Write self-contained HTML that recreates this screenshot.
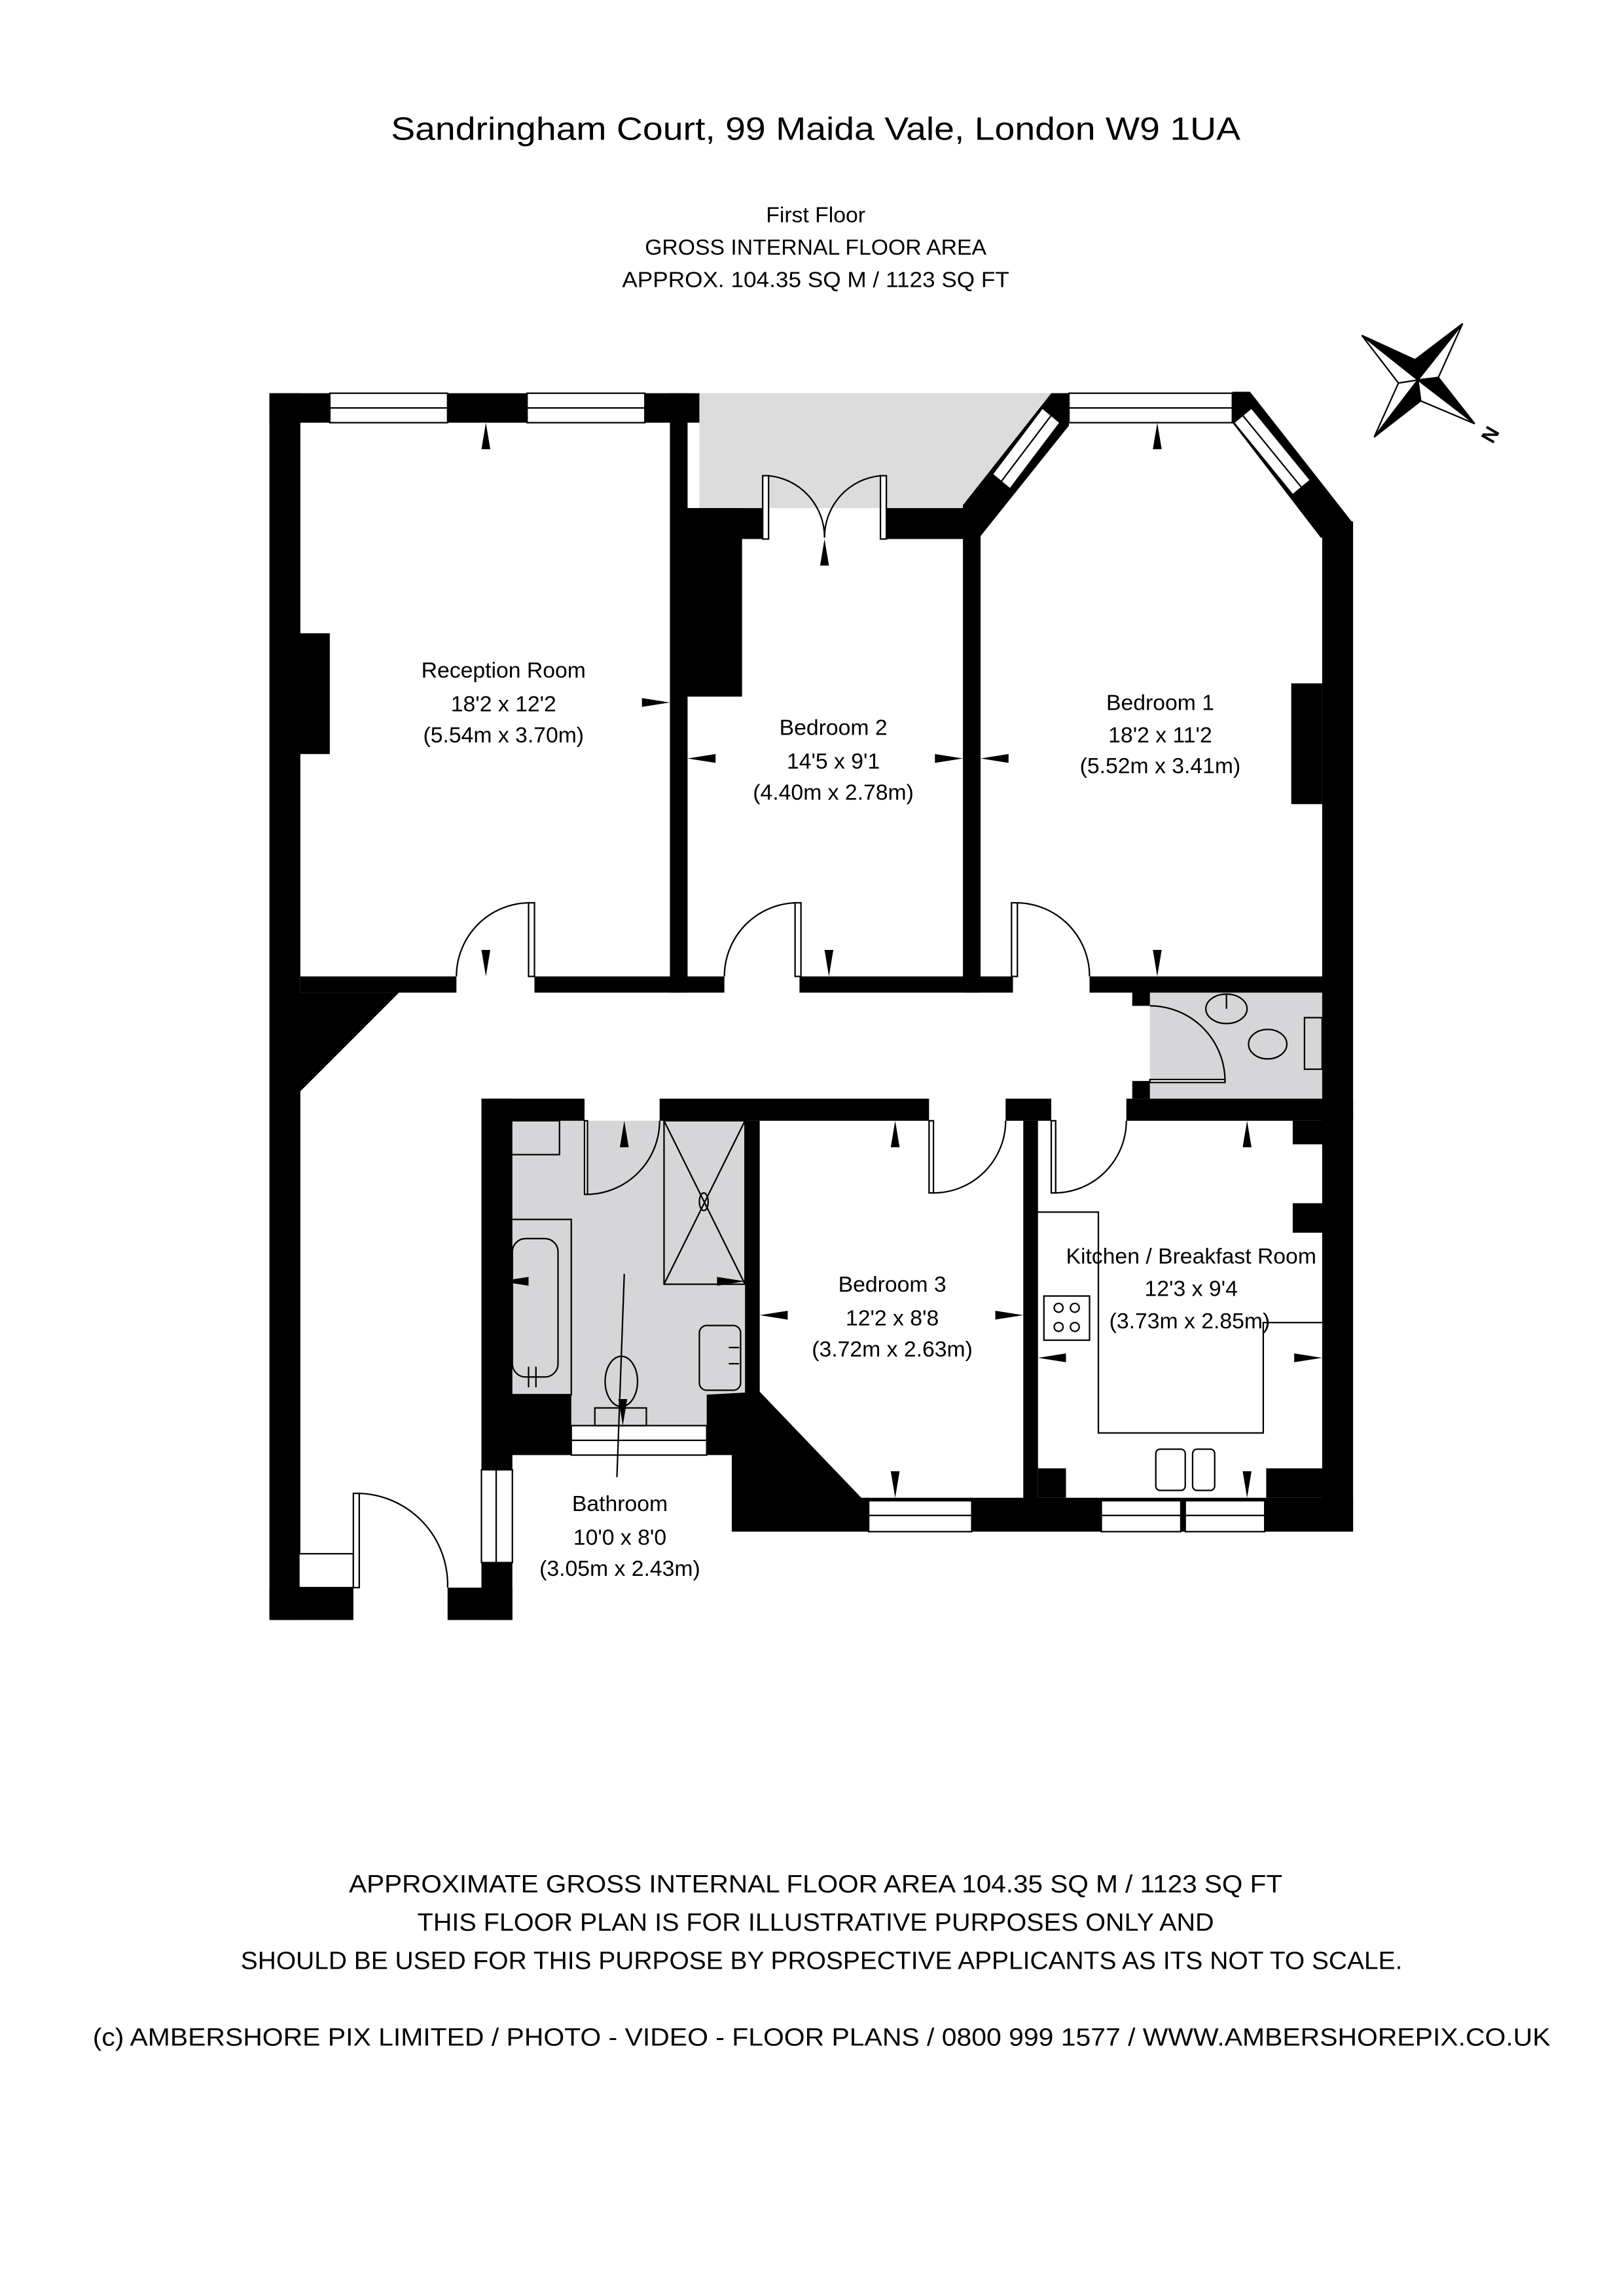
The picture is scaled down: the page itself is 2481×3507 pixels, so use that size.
<!DOCTYPE html>
<html><head><meta charset="utf-8"><style>
html,body{margin:0;padding:0;background:#fff;}
svg{display:block;}
text{font-family:"Liberation Sans",sans-serif;fill:#000;}
</style></head><body>
<svg width="2481" height="3507" viewBox="0 0 1103 1559" preserveAspectRatio="none" xmlns="http://www.w3.org/2000/svg">
<rect width="1103" height="1559" fill="#fff"/>
<text x="554" y="95" font-size="22" text-anchor="middle" textLength="577" lengthAdjust="spacingAndGlyphs">Sandringham Court, 99 Maida Vale, London W9 1UA</text>
<text x="554" y="151" font-size="15" text-anchor="middle">First Floor</text>
<text x="554" y="173" font-size="15" text-anchor="middle" textLength="232" lengthAdjust="spacingAndGlyphs">GROSS INTERNAL FLOOR AREA</text>
<text x="554" y="195" font-size="15" text-anchor="middle" textLength="263" lengthAdjust="spacingAndGlyphs">APPROX. 104.35 SQ M / 1123 SQ FT</text>

<polygon points="475,267 715,267 654,345 475,345" fill="#dcdcdc"/>
<rect x="340" y="761" width="166" height="207" fill="#d6d6d8"/>
<rect x="781" y="673" width="117" height="73" fill="#d6d6d8"/>

<g fill="#000">
<rect x="183" y="267" width="21" height="833"/>
<rect x="183" y="1078" width="57" height="22"/>
<rect x="304" y="1078" width="44" height="22"/>
<rect x="327" y="746" width="21" height="354"/>
<rect x="183" y="267" width="292" height="20"/>
<rect x="203" y="430" width="21" height="82"/>
<rect x="455" y="267" width="12" height="407"/>
<rect x="465" y="345" width="39" height="128"/>
<rect x="465" y="345" width="53" height="21"/>
<rect x="598" y="345" width="60" height="21"/>
<rect x="654" y="345" width="12" height="329"/>
<polygon points="654,343 714,267 726,267 726,289 666,364 654,364"/>
<rect x="714" y="267" width="135" height="20"/>
<polygon points="849,266 918,354 918,365 897,365 837,287 837,266"/>
<rect x="898" y="354" width="21" height="686"/>
<rect x="877" y="464" width="21" height="82"/>
<rect x="204" y="663" width="106" height="11"/>
<rect x="363" y="663" width="129" height="11"/>
<rect x="543" y="663" width="145" height="11"/>
<rect x="740" y="663" width="178" height="11"/>
<polygon points="203,674 271,674 203,742"/>
<rect x="769" y="673" width="12" height="10"/>
<rect x="769" y="734" width="12" height="12"/>
<rect x="327" y="746" width="70" height="15"/>
<rect x="448" y="746" width="183" height="15"/>
<rect x="683" y="746" width="31" height="15"/>
<rect x="765" y="746" width="154" height="15"/>
<rect x="506" y="761" width="10" height="186"/>
<rect x="340" y="947" width="48" height="41"/>
<polygon points="480,947 516,945 585,1017 585,1040 497,1040 497,988 480,988"/>
<rect x="695" y="761" width="10" height="279"/>
<rect x="583" y="1017" width="336" height="23"/>
<rect x="878" y="761" width="21" height="16"/>
<rect x="878" y="817" width="21" height="20"/>
<rect x="860" y="997" width="39" height="20"/>
<rect x="705" y="997" width="19" height="20"/>
</g>

<g fill="#fff" stroke="#000" stroke-width="1">
<rect x="224" y="267" width="80" height="20"/><line x1="224" y1="277" x2="304" y2="277"/>
<rect x="358" y="267" width="80" height="20"/><line x1="358" y1="277" x2="438" y2="277"/>
<rect x="726" y="267" width="111" height="20"/><line x1="726" y1="277" x2="837" y2="277"/>
<polygon points="674,322 708,277 720,287 686,332"/><line x1="680" y1="327" x2="714" y2="282"/>
<polygon points="850,277 890,326 878,336 838,287"/><line x1="844" y1="282" x2="884" y2="331"/>
<rect x="327" y="998" width="21" height="63"/><line x1="337" y1="998" x2="337" y2="1061"/>
<rect x="388" y="968" width="92" height="20"/><line x1="388" y1="978" x2="480" y2="978"/>
<rect x="590" y="1019" width="70" height="21"/><line x1="590" y1="1029" x2="660" y2="1029"/>
<rect x="748" y="1019" width="54" height="21"/><line x1="748" y1="1029" x2="802" y2="1029"/>
<rect x="805" y="1019" width="54" height="21"/><line x1="805" y1="1029" x2="859" y2="1029"/>
<rect x="203" y="1055" width="37" height="23"/>
</g>

<g fill="none" stroke="#000" stroke-width="1">
<rect x="359" y="613" width="4" height="50" fill="#fff"/>
<path d="M359,613 A50,50 0 0 0 310,663"/>
<rect x="540" y="613" width="4" height="50" fill="#fff"/>
<path d="M540,613 A50,50 0 0 0 492,663"/>
<rect x="687" y="613" width="4" height="50" fill="#fff"/>
<path d="M691,613 A50,50 0 0 1 740,663"/>
<rect x="518" y="323" width="4" height="43" fill="#fff"/>
<rect x="598" y="323" width="4" height="43" fill="#fff"/>
<path d="M522,323 A42,42 0 0 1 560,365"/>
<path d="M598,323 A42,42 0 0 0 560,365"/>
<rect x="240" y="1014" width="4" height="64" fill="#fff"/>
<path d="M244,1014 A62,62 0 0 1 304,1078"/>
<rect x="397" y="761" width="2" height="50" fill="#fff"/>
<path d="M399,811 A50,50 0 0 0 448,761"/>
<rect x="631" y="761" width="3" height="49" fill="#fff"/>
<path d="M634,810 A49,49 0 0 0 683,761"/>
<rect x="714" y="761" width="3" height="49" fill="#fff"/>
<path d="M717,810 A49,49 0 0 0 765,761"/>
<rect x="781" y="733" width="51" height="2" fill="#fff"/>
<path d="M832,734 A51,51 0 0 0 781,683"/>

<rect x="340" y="761" width="40" height="23"/>
<rect x="340" y="828" width="48" height="119"/>
<rect x="348" y="841" width="31" height="94" rx="9"/>
<line x1="359" y1="928" x2="359" y2="942"/><line x1="364" y1="928" x2="364" y2="942"/>
<rect x="451" y="761" width="55" height="111"/>
<line x1="451" y1="761" x2="506" y2="872"/><line x1="506" y1="761" x2="451" y2="872"/>
<ellipse cx="478" cy="816" rx="3" ry="6"/>
<ellipse cx="422" cy="938" rx="11" ry="17"/>
<rect x="404" y="956" width="35" height="12"/>
<rect x="475" y="900" width="28" height="44" rx="5"/>
<line x1="495" y1="915" x2="502" y2="915"/><line x1="495" y1="926" x2="502" y2="926"/>
<line x1="424" y1="865" x2="419" y2="1003"/>
<ellipse cx="833" cy="685" rx="14" ry="10"/>
<line x1="833" y1="675" x2="833" y2="685"/>
<ellipse cx="861" cy="709" rx="13" ry="10"/>
<rect x="886" y="691" width="12" height="35"/>
<polyline points="705,823 746,823 746,973 858,973 858,898 898,898"/>
<rect x="709" y="880" width="31" height="30"/>
<circle cx="719" cy="888" r="3"/><circle cx="730" cy="888" r="3"/>
<circle cx="719" cy="901" r="3"/><circle cx="730" cy="901" r="3"/>
<rect x="785" y="984" width="20" height="28" rx="3"/>
<rect x="810" y="984" width="15" height="28" rx="3"/>
</g>

<g fill="#000">
<polygon points="330,287 327,305 333,305"/>
<polygon points="330,663 327,645 333,645"/>
<polygon points="455,477 436,474 436,480"/>
<polygon points="560,366 557,384 563,384"/>
<polygon points="563,663 560,645 566,645"/>
<polygon points="467,515 486,512 486,518"/>
<polygon points="654,515 635,512 635,518"/>
<polygon points="786,287 783,305 789,305"/>
<polygon points="786,663 783,645 789,645"/>
<polygon points="666,515 685,512 685,518"/>
<polygon points="608,761 605,779 611,779"/>
<polygon points="608,1017 605,999 611,999"/>
<polygon points="516,893 535,890 535,896"/>
<polygon points="695,893 676,890 676,896"/>
<polygon points="847,761 844,779 850,779"/>
<polygon points="847,1017 844,999 850,999"/>
<polygon points="705,922 724,919 724,925"/>
<polygon points="898,922 879,919 879,925"/>
<polygon points="340,870 359,867 359,873"/>
<polygon points="506,870 487,867 487,873"/>
<polygon points="424,761 421,779 427,779"/>
<polygon points="423,968 420,950 426,950"/>
</g>

<g font-size="15" text-anchor="middle">
<text x="342" y="460">Reception Room</text>
<text x="342" y="483">18'2 x 12'2</text>
<text x="342" y="504">(5.54m x 3.70m)</text>
<text x="566" y="499">Bedroom 2</text>
<text x="566" y="522">14'5 x 9'1</text>
<text x="566" y="543">(4.40m x 2.78m)</text>
<text x="788" y="482">Bedroom 1</text>
<text x="788" y="504">18'2 x 11'2</text>
<text x="788" y="525">(5.52m x 3.41m)</text>
<text x="606" y="877">Bedroom 3</text>
<text x="606" y="900">12'2 x 8'8</text>
<text x="606" y="921">(3.72m x 2.63m)</text>
<text x="809" y="858">Kitchen / Breakfast Room</text>
<text x="809" y="880">12'3 x 9'4</text>
<text x="808" y="902">(3.73m x 2.85m)</text>
<text x="421" y="1026">Bathroom</text>
<text x="421" y="1049">10'0 x 8'0</text>
<text x="421" y="1070">(3.05m x 2.43m)</text>
</g>

<g stroke="#000" stroke-width="1" stroke-linejoin="miter">
<polygon points="963,258 924.9,227.7 961.1,244.3" fill="#000"/>
<polygon points="963,258 924.9,227.7 949.8,260.1" fill="#fff"/>
<polygon points="963,258 993.4,219.7 976.9,256.3" fill="#fff"/>
<polygon points="963,258 993.4,219.7 961.1,244.3" fill="#000"/>
<polygon points="963,258 1001.6,287.7 964.9,272.2" fill="#fff"/>
<polygon points="963,258 1001.6,287.7 976.9,256.3" fill="#000"/>
<polygon points="963,258 933.3,296.8 949.8,260.1" fill="#fff"/>
<polygon points="963,258 933.3,296.8 964.9,272.2" fill="#000"/>
</g>
<text x="1012" y="300" font-size="14" font-weight="bold" text-anchor="middle" transform="rotate(-60 1012 295)">N</text>

<g font-size="17" text-anchor="middle">
<text x="554" y="1285" textLength="634" lengthAdjust="spacingAndGlyphs">APPROXIMATE GROSS INTERNAL FLOOR AREA 104.35 SQ M / 1123 SQ FT</text>
<text x="554" y="1311" textLength="541" lengthAdjust="spacingAndGlyphs">THIS FLOOR PLAN IS FOR ILLUSTRATIVE PURPOSES ONLY AND</text>
<text x="558" y="1337" textLength="789" lengthAdjust="spacingAndGlyphs">SHOULD BE USED FOR THIS PURPOSE BY PROSPECTIVE APPLICANTS AS ITS NOT TO SCALE.</text>
<text x="558" y="1389" textLength="990" lengthAdjust="spacingAndGlyphs">(c) AMBERSHORE PIX LIMITED / PHOTO - VIDEO - FLOOR PLANS / 0800 999 1577 / WWW.AMBERSHOREPIX.CO.UK</text>
</g>
</svg>
</body></html>
